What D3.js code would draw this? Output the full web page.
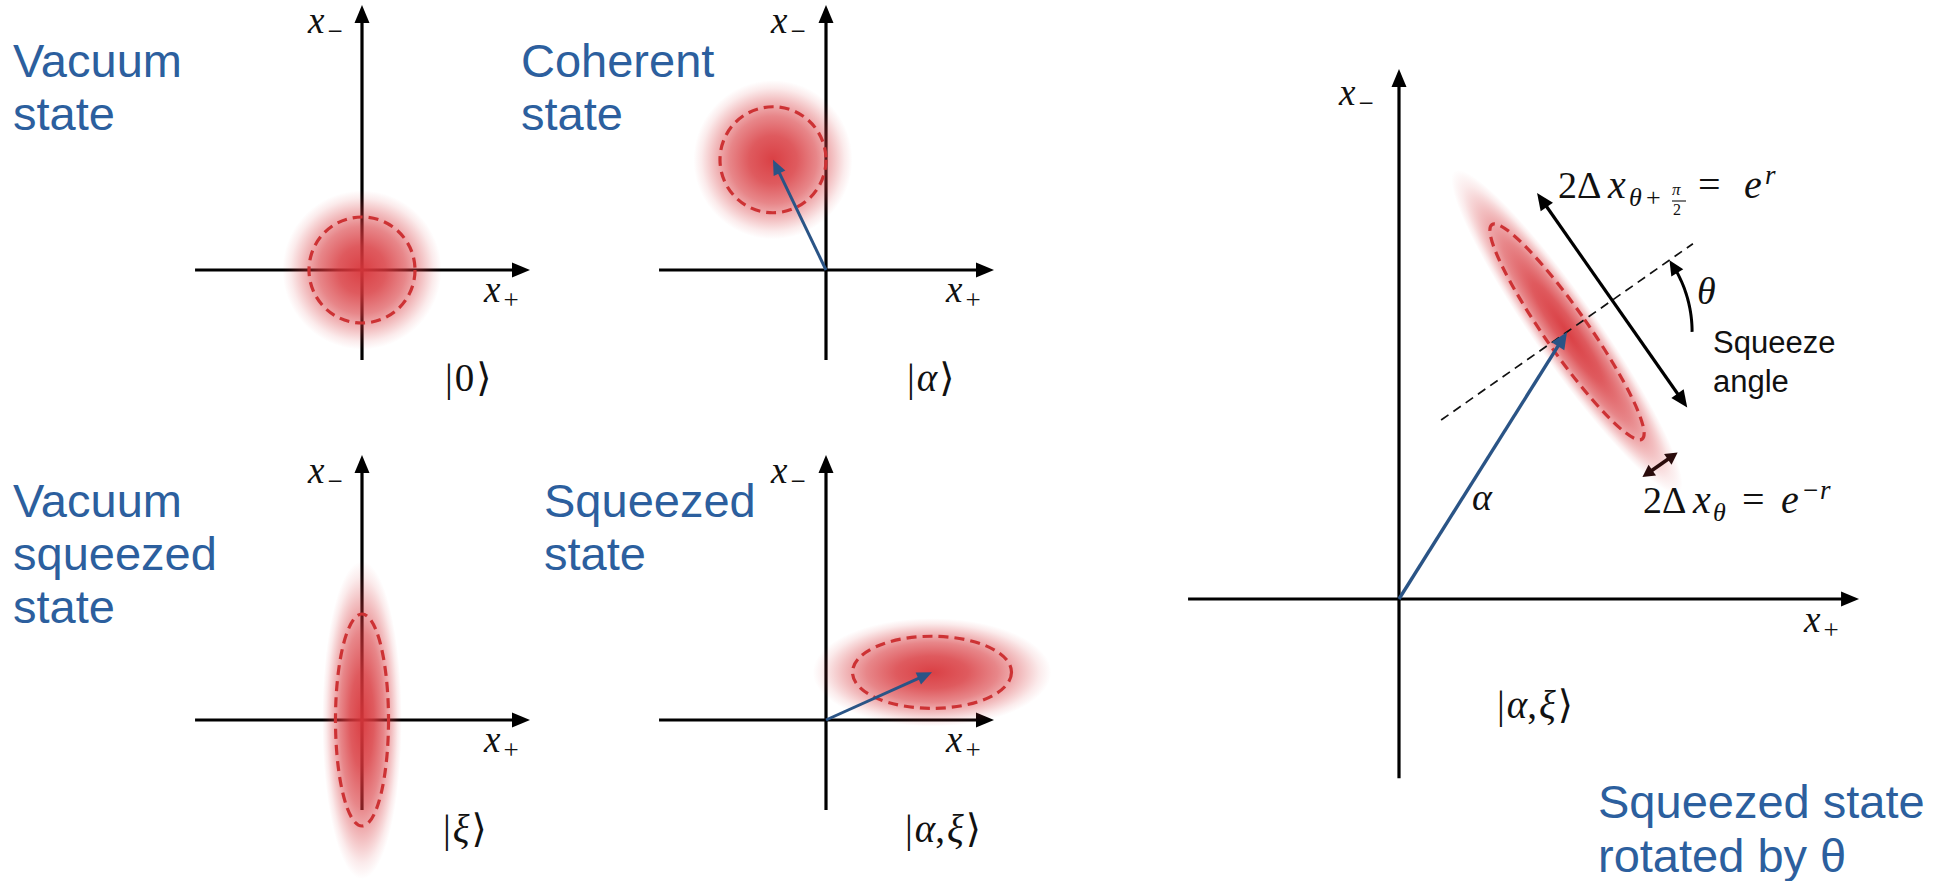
<!DOCTYPE html>
<html><head><meta charset="utf-8">
<script src="https://cdn.jsdelivr.net/npm/d3@7"></script>
<style>
html,body{margin:0;padding:0;background:#fff;}
svg{display:block;}
</style></head><body>
<svg id="fig" width="1949" height="881"></svg>
<script>
// Phase-space sketches of Gaussian states; lengths are in units of the vacuum noise radius.
const titleLines = [["Vacuum","state"],["Coherent","state"],["Vacuum","squeezed","state"],["Squeezed","state"],["Squeezed state","rotated by θ"]];
const ketParts = [["0"],["α"],["ξ"],["α",",","ξ"],["α",",","ξ"]];
const centerX = [0, -1.0, 0, 2.0, 3.17];      // displacement α along x+
const centerY = [0, 2.08, 0, 0.9, 5.04];      // displacement α along x−
const spreadA = [1, 1, 0.5, 1.5, 0.405];       // noise semi-axis along the squeeze direction θ
const spreadB = [1, 1, 2.0, 0.68, 2.47];       // noise semi-axis along θ + π/2
const thetaDeg = [0, 0, 0, 0, 35];
const showAlpha = [false, true, false, true, true];
const axisLabels = ["x", "−", "+"];

const U = 53;
const serif = "'Liberation Serif','DejaVu Serif',serif";
const sans = "'Liberation Sans',Arial,sans-serif";
const blue = "#2c5f9e", arrowBlue = "#2a5486", red = "#cd3234";

const layout = [
  {ox:362, oy:270, x0:-3.15, x1:3.17, y0:-1.7, y1:5.0, title:[13,77], lh:53, ket:[445,391], xm:[-54,28], xp:[-46,32]},
  {ox:826, oy:270, x0:-3.15, x1:3.17, y0:-1.7, y1:5.0, title:[521,77], lh:53, ket:[907,391], xm:[-55,28], xp:[-48,32]},
  {ox:362, oy:720, x0:-3.15, x1:3.17, y0:-1.7, y1:5.0, title:[13,517], lh:53, ket:[443,842], xm:[-54,28], xp:[-46,32]},
  {ox:826, oy:720, x0:-3.15, x1:3.17, y0:-1.7, y1:5.0, title:[544,517], lh:53, ket:[905,842], xm:[-55,28], xp:[-48,32]},
  {ox:1399, oy:599, x0:-3.98, x1:8.68, y0:-3.38, y1:10.0, title:[1598,818], lh:54, ket:[1497,718], xm:[-60,36], xp:[-55,33]}
];

const svg = d3.select("#fig");
const defs = svg.append("defs");
const grad = defs.append("radialGradient").attr("id","noise");
[[0,0.95],[0.3,0.82],[0.55,0.6],[0.75,0.32],[0.9,0.1],[1,0]].forEach(([o,a]) =>
  grad.append("stop").attr("offset",o).attr("stop-color","#d8363b").attr("stop-opacity",a));

function head(g, x1, y1, x2, y2, len, half, color) {
  const a = Math.atan2(y2 - y1, x2 - x1), c = Math.cos(a), s = Math.sin(a);
  const bx = x2 - len * c, by = y2 - len * s;
  g.append("path")
    .attr("d", `M${x2},${y2}L${bx - half * s},${by + half * c}L${bx + half * s},${by - half * c}Z`)
    .attr("fill", color);
}
function arrow(g, x1, y1, x2, y2, o) {
  const a = Math.atan2(y2 - y1, x2 - x1), c = Math.cos(a), s = Math.sin(a);
  const cut = o.len * 0.7;
  const sx1 = o.both ? x1 + cut * c : x1, sy1 = o.both ? y1 + cut * s : y1;
  g.append("line").attr("x1", sx1).attr("y1", sy1)
    .attr("x2", x2 - cut * c).attr("y2", y2 - cut * s)
    .attr("stroke", o.color).attr("stroke-width", o.w);
  head(g, x1, y1, x2, y2, o.len, o.half, o.color);
  if (o.both) head(g, x2, y2, x1, y1, o.len, o.half, o.color);
}
function axisLabel(g, x, y, sub) {
  const t = g.append("text").attr("x", x).attr("y", y)
    .attr("font-family", serif).attr("font-size", 37).attr("fill", "#111");
  t.append("tspan").attr("font-style", "italic").text(axisLabels[0]);
  t.append("tspan").attr("font-size", 27).attr("dx", 3).attr("dy", 7).text(sub);
}
// math label built from pieces placed at absolute offsets: [text, dx, dy, size, italic]
function mathLabel(g, x, y, pieces) {
  const t = g.append("text").attr("font-family", serif).attr("fill", "#111");
  pieces.forEach(([s, dx, dy, size, it]) => t.append("tspan")
    .attr("x", x + dx).attr("y", y + dy).attr("font-size", size)
    .attr("font-style", it ? "italic" : "normal").text(s));
  return t;
}

layout.forEach((L, i) => {
  const g = svg.append("g");
  const sx = d3.scaleLinear().domain([L.x0, L.x1]).range([L.ox + L.x0 * U, L.ox + L.x1 * U]);
  const sy = d3.scaleLinear().domain([L.y0, L.y1]).range([L.oy - L.y0 * U, L.oy - L.y1 * U]);

  // title
  const tt = g.append("text").attr("font-family", sans).attr("font-size", 47).attr("fill", blue);
  titleLines[i].forEach((s, k) => tt.append("tspan").attr("x", L.title[0]).attr("y", L.title[1] + k * L.lh).text(s));

  // axes
  const axw = 3.2;
  arrow(g, sx(L.x0), sy(0), sx(L.x1), sy(0), {len: 18, half: 7.5, color: "#000", w: axw});
  arrow(g, sx(0), sy(L.y0), sx(0), sy(L.y1), {len: 18, half: 7.5, color: "#000", w: axw});
  axisLabel(g, sx(0) + L.xm[0], sy(L.y1) + L.xm[1], axisLabels[1]);
  axisLabel(g, sx(L.x1) + L.xp[0], sy(0) + L.xp[1], axisLabels[2]);

  // noise ellipse (soft fill)
  const cx = sx(centerX[i]), cy = sy(centerY[i]);
  const ra = sx(spreadA[i]) - sx(0), rb = sy(0) - sy(spreadB[i]);
  const rot = `rotate(${-thetaDeg[i]},${cx},${cy})`;
  g.append("ellipse").attr("cx", cx).attr("cy", cy).attr("rx", ra * 1.5).attr("ry", rb * 1.5)
    .attr("transform", rot).attr("fill", "url(#noise)");

  if (i === 4) {
    const th = thetaDeg[i] * Math.PI / 180;
    const ua = [Math.cos(th), Math.sin(th)], ub = [-Math.sin(th), Math.cos(th)];
    const P = (t, s) => [sx(centerX[i] + t * ua[0] + s * ub[0]), sy(centerY[i] + t * ua[1] + s * ub[1])];
    // squeeze axis through the state centre
    const d0 = P(-2.9, 0), d1 = P(2.9, 0);
    g.append("line").attr("x1", d0[0]).attr("y1", d0[1]).attr("x2", d1[0]).attr("y2", d1[1])
      .attr("stroke", "#111").attr("stroke-width", 1.7).attr("stroke-dasharray", "9 6");
    // anti-squeezed width 2Δx_{θ+π/2}
    const q0 = P(1.04, -spreadB[i]), q1 = P(1.04, spreadB[i]);
    arrow(g, q0[0], q0[1], q1[0], q1[1], {len: 17, half: 7.5, color: "#000", w: 3.2, both: true});
    // squeezed width 2Δx_θ
    const m0 = P(-spreadA[i], -3.06), m1 = P(spreadA[i], -3.06);
    arrow(g, m0[0], m0[1], m1[0], m1[1], {len: 12, half: 6.5, color: "#2a0c0c", w: 3.6, both: true});
    // squeeze angle arc, measured from the x+ direction
    const R = 2.36;
    const Q = a => [sx(centerX[i] + R * Math.cos(a * Math.PI / 180)), sy(centerY[i] + R * Math.sin(a * Math.PI / 180))];
    const arcPts = d3.range(0, thetaDeg[i] - 5.5, 0.5).map(Q);
    g.append("path").attr("d", d3.line()(arcPts)).attr("fill", "none").attr("stroke", "#000").attr("stroke-width", 3);
    const aTip = Q(thetaDeg[i]);
    const prev = Q(thetaDeg[i] - 7);
    head(g, prev[0], prev[1], aTip[0], aTip[1], 15, 7, "#000");
  }

  // noise contour
  g.append("ellipse").attr("cx", cx).attr("cy", cy).attr("rx", ra).attr("ry", rb)
    .attr("transform", rot).attr("fill", "none").attr("stroke", red)
    .attr("stroke-width", 3.2).attr("stroke-dasharray", "10 6");

  if (showAlpha[i]) {
    const big = i === 4;
    arrow(g, sx(0), sy(0), cx, cy, {len: big ? 17 : 15, half: big ? 7.5 : 6.5, color: arrowBlue, w: big ? 3.4 : 3});
  }

  // ket label
  const kt = g.append("text").attr("x", L.ket[0]).attr("y", L.ket[1])
    .attr("font-family", serif).attr("font-size", 39).attr("fill", "#111");
  kt.append("tspan").text("|");
  ketParts[i].forEach(p => kt.append("tspan").attr("font-style", (p === "0" || p === ",") ? "normal" : "italic")
    .attr("dx", p === "," ? 0 : 2).text(p));
  kt.append("tspan").attr("dx", 2).text("⟩");
});

// annotations of the rotated squeezed state
const ann = svg.append("g");
mathLabel(ann, 1558, 198, [
  ["2", 0, 0, 38, false], ["Δ", 19, 0, 38, false], ["x", 50, 0, 40, true],
  ["θ", 71, 8, 26, true], ["+", 88, 8, 26, false],
  ["π", 114, -3, 17, true], ["2", 115, 17, 16, false],
  ["=", 140, 0, 40, false], ["e", 186, 0, 40, true], ["r", 207, -14, 27, true]
]);
ann.append("line").attr("x1", 1672).attr("x2", 1686).attr("y1", 201).attr("y2", 201)
  .attr("stroke", "#111").attr("stroke-width", 1.1);
mathLabel(ann, 1643, 513, [
  ["2", 0, 0, 38, false], ["Δ", 19, 0, 38, false], ["x", 50, 0, 40, true],
  ["θ", 70, 8, 26, true],
  ["=", 99, 0, 40, false], ["e", 138, 0, 40, true], ["−", 160, -14, 27, false], ["r", 177, -14, 27, true]
]);
mathLabel(ann, 1697, 304, [["θ", 0, 0, 38, true]]);
mathLabel(ann, 1472, 510, [["α", 0, 0, 38, true]]);
const sq = ann.append("text").attr("font-family", sans).attr("font-size", 31).attr("fill", "#111");
sq.append("tspan").attr("x", 1713).attr("y", 353).text("Squeeze");
sq.append("tspan").attr("x", 1713).attr("y", 392).text("angle");
</script>
</body></html>
